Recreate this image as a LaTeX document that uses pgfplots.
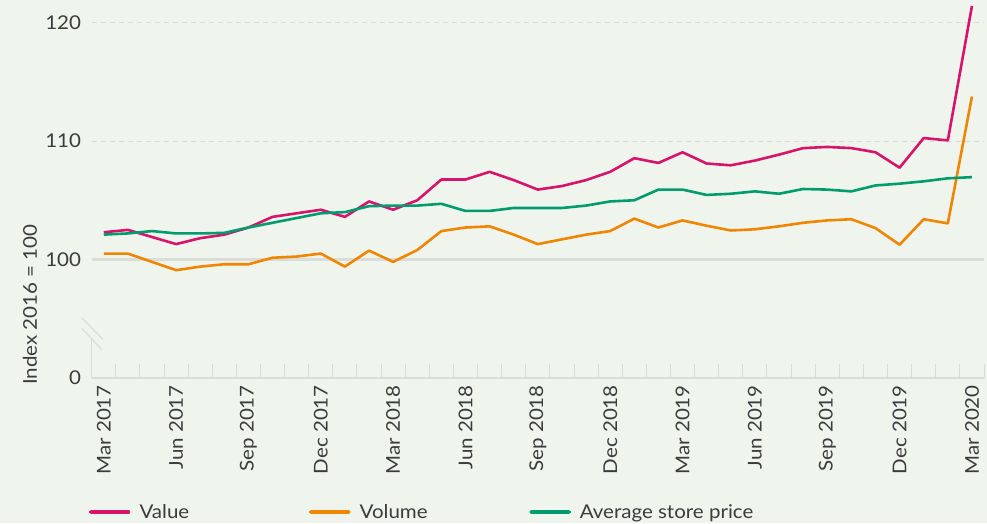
\documentclass[border=0pt]{standalone}
\usepackage{fontspec}
\setmainfont{Lato}[FakeStretch=1.08]
\usepackage{pgfplots}
\pgfplotsset{compat=1.18}
\definecolor{bg}{RGB}{239,244,237}
\definecolor{cval}{RGB}{214,20,108}
\definecolor{cvol}{RGB}{240,134,0}
\definecolor{cavg}{RGB}{0,155,110}
\definecolor{txt}{RGB}{60,60,60}
\definecolor{gridc}{RGB}{218,220,216}

\pgfplotstableread{
i value volume avg
0 102.3 100.5 102.1
1 102.5 100.5 102.2
2 101.9 99.8 102.4
3 101.3 99.1 102.2
4 101.8 99.4 102.2
5 102.1 99.6 102.25
6 102.7 99.6 102.7
7 103.6 100.15 103.1
8 103.9 100.25 103.5
9 104.2 100.5 103.9
10 103.6 99.4 104.0
11 104.9 100.75 104.5
12 104.2 99.8 104.55
13 105.0 100.8 104.55
14 106.75 102.4 104.7
15 106.75 102.7 104.1
16 107.4 102.8 104.1
17 106.7 102.1 104.35
18 105.9 101.3 104.35
19 106.2 101.7 104.35
20 106.7 102.1 104.55
21 107.4 102.4 104.9
22 108.55 103.45 105.0
23 108.15 102.7 105.9
24 109.05 103.3 105.9
25 108.1 102.85 105.45
26 107.95 102.45 105.55
27 108.35 102.55 105.75
28 108.85 102.8 105.55
29 109.4 103.1 105.95
30 109.5 103.3 105.9
31 109.4 103.4 105.75
32 109.05 102.65 106.25
33 107.75 101.25 106.4
34 110.25 103.4 106.6
35 110.05 103.05 106.85
36 121.4 113.75 106.95
}\datatable

\begin{document}
\begin{tikzpicture}
\fill[bg] (0,0) rectangle (987pt,523pt);
\useasboundingbox (0,0) rectangle (987pt,523pt);
\begin{axis}[
  at={(91.7pt,145pt)}, anchor=south west,
  scale only axis, width=892.3pt, height=377.4pt,
  xmin=-0.5, xmax=36.5, ymin=90, ymax=121.85,
  clip=false,
  axis x line*=bottom, axis y line*=left,
  axis line style={-},
  x axis line style={draw=gridc, line width=1.5pt},
  y axis line style={draw=none},
  /pgf/number format/assume math mode=true,
  tick label style={font=\fontsize{19}{22}\selectfont, text=txt},
  xtick={0,3,...,36},
  xticklabels={Mar 2017,Jun 2017,Sep 2017,Dec 2017,Mar 2018,Jun 2018,Sep 2018,Dec 2018,Mar 2019,Jun 2019,Sep 2019,Dec 2019,Mar 2020},
  xticklabel style={rotate=90, anchor=east, inner sep=0pt},
  xticklabel shift=7pt,
  minor xtick={-0.5,0.5,...,36.5},
  major tick length=0pt,
  minor tick length=14pt,
  tick align=inside,
  minor tick style={draw=gridc, line width=1pt},
  ytick={90,110,120},
  yticklabels={0,110,120},
  extra y ticks={100},
  extra y tick labels={100},
  extra y tick style={grid=major, major grid style={solid, draw=gridc, line width=3pt}},
  yticklabel style={inner sep=0pt, xshift=-10.5pt},
  ymajorgrids=true,
  major grid style={draw=gridc, line width=1pt, dash pattern=on 5pt off 4pt},
  legend columns=3,
  legend cell align=left,
  legend style={at={(rel axis cs:0,0)}, anchor=west, xshift=-3.7pt, yshift=-134pt,
    draw=none, fill=none, inner sep=0pt, outer sep=0pt,
    font=\fontsize{19}{22}\selectfont, text=txt,
    nodes={inner sep=0pt},
    /tikz/every odd column/.append style={column sep=8pt}},
  legend image code/.code={\path (0pt,0pt) -- (41pt,0pt); \draw[#1, line width=4.5pt, line cap=round] (2.25pt,0pt) -- (38.75pt,0pt);},
  every axis plot/.append style={line width=2.6pt, line join=round, mark=none},
]
\addplot[cval] table[x=i, y=value] {\datatable};
\addlegendentry{\makebox[168.5pt][l]{Value}}
\addplot[cvol] table[x=i, y=volume] {\datatable};
\addlegendentry{\makebox[168.5pt][l]{Volume}}
\addplot[cavg] table[x=i, y=avg] {\datatable};
\addlegendentry{Average store price}

\draw[gridc, line width=1.2pt] (axis cs:-0.5,90) -- (axis cs:-0.5,93.25);
\draw[gridc, line width=1.2pt] (axis cs:-0.915,95.1) -- (axis cs:-0.03,93.25);
\draw[gridc, line width=1.2pt] (axis cs:-0.915,94.2) -- (axis cs:-0.085,92.4);
\node[rotate=90, anchor=west, inner sep=0pt, font=\fontsize{19}{22}\selectfont, text=txt] at (axis cs:-3.06,89.4) {Index 2016 = 100};
\end{axis}
\end{tikzpicture}
\end{document}
